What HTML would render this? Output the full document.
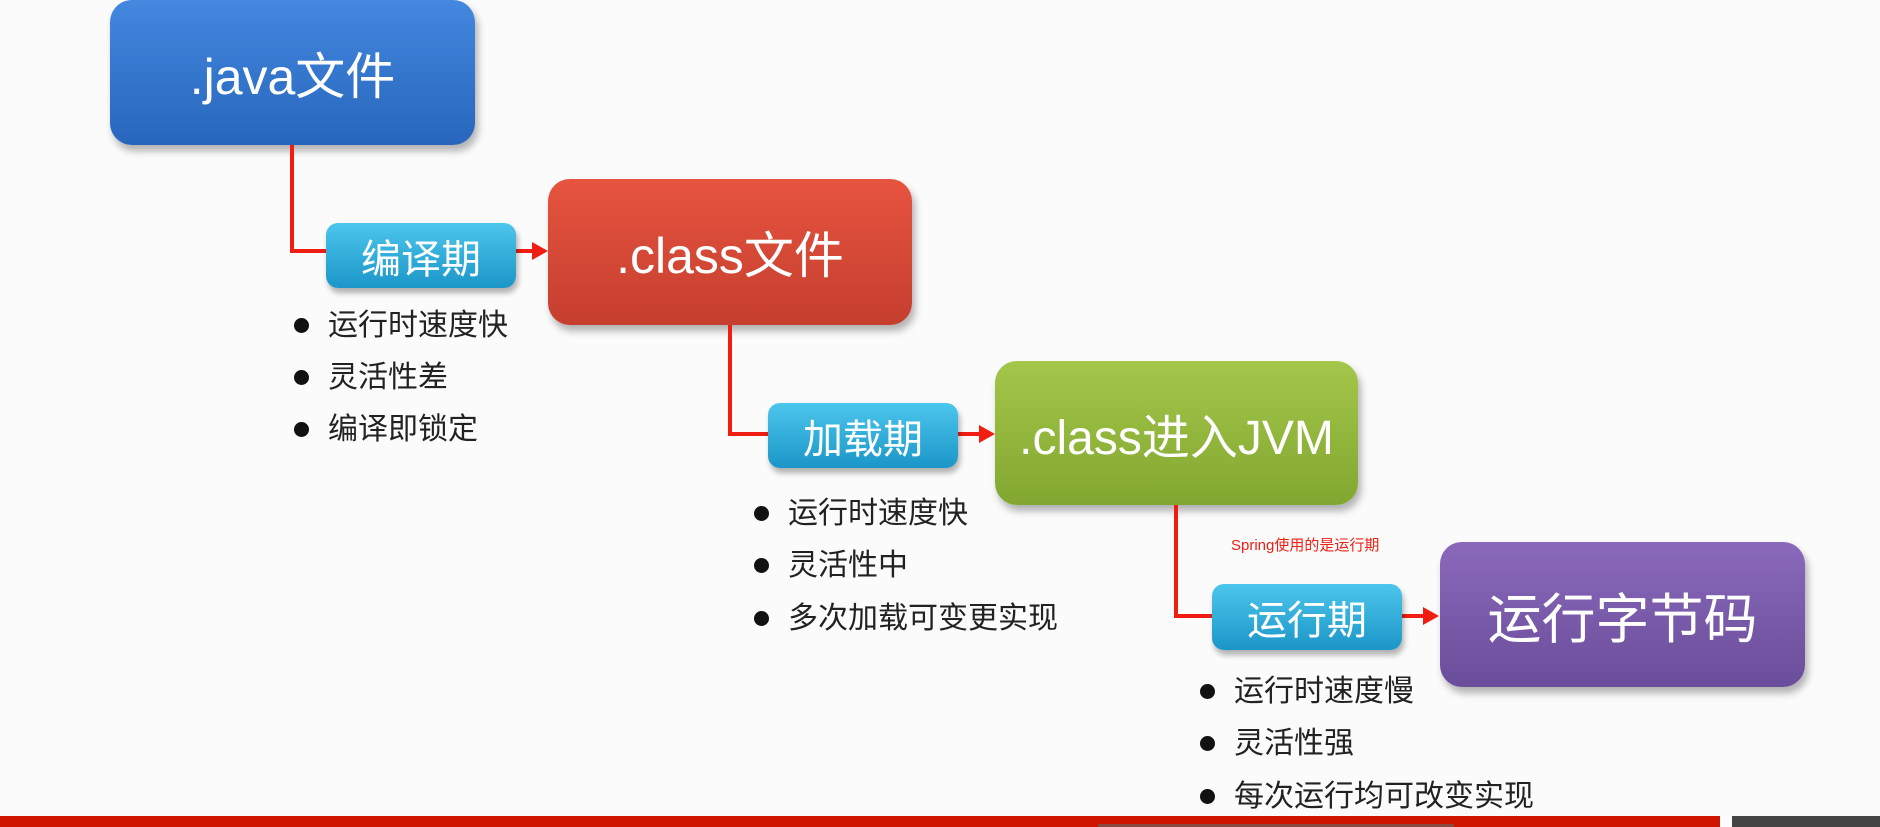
<!DOCTYPE html>
<html><head><meta charset="utf-8"><style>
body{margin:0;width:1880px;height:827px;overflow:hidden;background:#fbfbfb;position:relative;font-family:"Liberation Sans","Noto Sans CJK SC",sans-serif}
.b{position:absolute;border-radius:22px;color:#fff;display:flex;align-items:center;justify-content:center;box-shadow:3px 6px 8px rgba(0,0,0,.3)}
.s{position:absolute;border-radius:12px;color:#fff;display:flex;align-items:center;justify-content:center;font-size:40px;background:linear-gradient(#4cc6ec,#1b96c8);box-shadow:2px 5px 6px rgba(0,0,0,.3)}
.l{position:absolute;background:#f01e12}
.a{position:absolute;width:0;height:0;border-top:9px solid transparent;border-bottom:9px solid transparent;border-left:16px solid #f01e12}
.t{position:absolute;font-size:30px;color:#222;line-height:32px;white-space:nowrap}
.t span{display:inline-block;width:15px;height:15px;border-radius:50%;background:#111;margin-right:19px;vertical-align:2px}
</style></head><body>
<div class="b" style="left:110px;top:0;width:365px;height:145px;background:linear-gradient(#4488df,#2766bc);font-size:50px">.java文件</div>
<div class="b" style="left:548px;top:179px;width:364px;height:146px;background:linear-gradient(#e6543f,#c53e2e);font-size:50px">.class文件</div>
<div class="b" style="left:995px;top:361px;width:363px;height:144px;background:linear-gradient(#a4c64a,#82a730);font-size:48px">.class进入JVM</div>
<div class="b" style="left:1440px;top:542px;width:365px;height:145px;background:linear-gradient(#8a69bb,#6a4d9a);font-size:54px">运行字节码</div>

<div class="l" style="left:290px;top:145px;width:4px;height:107px"></div>
<div class="l" style="left:290px;top:249px;width:38px;height:4px"></div>
<div class="l" style="left:516px;top:249px;width:18px;height:4px"></div><div class="a" style="left:532px;top:242px"></div>
<div class="s" style="left:326px;top:223px;width:190px;height:65px">编译期</div>

<div class="l" style="left:728px;top:325px;width:4px;height:110px"></div>
<div class="l" style="left:728px;top:432px;width:42px;height:4px"></div>
<div class="l" style="left:958px;top:432px;width:22px;height:4px"></div><div class="a" style="left:979px;top:425px"></div>
<div class="s" style="left:768px;top:403px;width:190px;height:65px">加载期</div>

<div class="l" style="left:1174px;top:505px;width:4px;height:112px"></div>
<div class="l" style="left:1174px;top:614px;width:40px;height:4px"></div>
<div class="l" style="left:1402px;top:614px;width:22px;height:4px"></div><div class="a" style="left:1423px;top:607px"></div>
<div class="s" style="left:1212px;top:584px;width:190px;height:66px">运行期</div>

<div style="position:absolute;left:1231px;top:534px;font-size:15px;color:#f01e12">Spring使用的是运行期</div>

<div class="t" style="left:294px;top:310px"><span></span>运行时速度快</div>
<div class="t" style="left:294px;top:362px"><span></span>灵活性差</div>
<div class="t" style="left:294px;top:414px"><span></span>编译即锁定</div>

<div class="t" style="left:754px;top:498px"><span></span>运行时速度快</div>
<div class="t" style="left:754px;top:550px"><span></span>灵活性中</div>
<div class="t" style="left:754px;top:603px"><span></span>多次加载可变更实现</div>

<div class="t" style="left:1200px;top:676px"><span></span>运行时速度慢</div>
<div class="t" style="left:1200px;top:728px"><span></span>灵活性强</div>
<div class="t" style="left:1200px;top:781px"><span></span>每次运行均可改变实现</div>

<div style="position:absolute;left:0;top:816px;width:1720px;height:11px;background:#cf1500"></div>
<div style="position:absolute;left:1098px;top:824px;width:356px;height:3px;background:#8a4a40"></div>
<div style="position:absolute;left:1732px;top:816px;width:148px;height:11px;background:#444"></div>
</body></html>
